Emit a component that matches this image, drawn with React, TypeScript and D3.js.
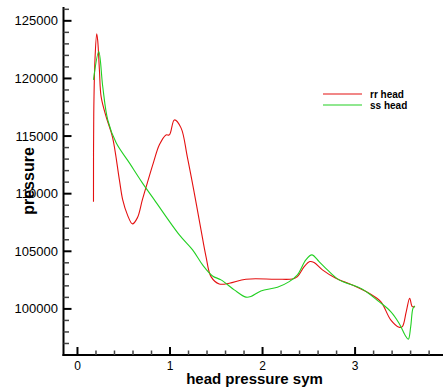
import { useEffect, useRef } from "react";
import * as d3 from "d3";

// rr head curve (head pressure sym, pressure)
const rrHeadX = [
  0.173, 0.176, 0.189, 0.208, 0.219, 0.237, 0.256, 0.31, 0.378, 0.453, 0.489,
  0.54, 0.594, 0.647, 0.701, 0.755, 0.82, 0.885, 0.957, 0.993, 1.047, 1.119,
  1.187, 1.262, 1.335, 1.389, 1.443, 1.532, 1.64, 1.82, 2.144, 2.323, 2.377,
  2.45, 2.511, 2.557, 2.647, 2.792, 2.971, 3.151, 3.277, 3.385, 3.475, 3.51,
  3.553, 3.59, 3.618, 3.647,
];
const rrHeadP = [
  109290, 116930, 121610, 123870, 123260, 120750, 118400, 116670, 114930,
  111200, 109460, 108160, 107380, 107900, 109460, 110940, 112670, 114240,
  115100, 115100, 116400, 115710, 113190, 110070, 106860, 104540, 102800,
  102170, 102230, 102580, 102580, 102600, 102800, 103670, 104110, 104020,
  103390, 102660, 102080, 101360, 100630, 99050, 98410, 98460, 99770, 100930,
  100200, 100200,
];

// ss head curve
const ssHeadX = [
  0.173, 0.23, 0.273, 0.327, 0.418, 0.561, 0.701, 0.831, 1.101, 1.244, 1.352,
  1.46, 1.551, 1.694, 1.82, 1.874, 1.982, 2.161, 2.288, 2.377, 2.468, 2.533,
  2.611, 2.701, 2.827, 3.079, 3.259, 3.385, 3.475, 3.539, 3.575, 3.601, 3.626,
  3.647,
];
const ssHeadP = [
  119880, 122330, 119300, 116410, 114410, 112670, 110940, 109460, 106420,
  105120, 103820, 102860, 102520, 101650, 101020, 101070, 101560, 101880,
  102370, 102950, 104250, 104690, 104110, 103390, 102520, 101710, 100630,
  99770, 98760, 97740, 97370, 98460, 100060, 100260,
];

const xMajorTicks = [0, 1, 2, 3];
const xMinorTicks = [0.2, 0.4, 0.6, 0.8, 1.2, 1.4, 1.6, 1.8, 2.2, 2.4, 2.6, 2.8, 3.2, 3.4, 3.6, 3.8];
const yMajorTicks = [100000, 105000, 110000, 115000, 120000, 125000];
const yMinorTicks = d3.range(97000, 126001, 1000).filter((d) => d % 5000 !== 0);

const seriesNames = ["rr head", "ss head"];
const seriesColors = ["#e41010", "#22d022"];

const WIDTH = 443;
const HEIGHT = 392;

const App = () => {
  const svgRef = useRef<SVGSVGElement>(null);

  useEffect(() => {
    const svg = d3.select(svgRef.current);
    svg.selectAll("*").remove();

    const x = d3.scaleLinear().domain([-0.151, 3.95]).range([63.5, 443]);
    const y = d3.scaleLinear().domain([96000, 126200]).range([355, 7]);
    const font = "'Liberation Sans', Arial, sans-serif";

    // curves
    const line = d3
      .line<[number, number]>()
      .x((d) => x(d[0]))
      .y((d) => y(d[1]))
      .curve(d3.curveCatmullRom.alpha(0.5));

    const series = [
      d3.zip(rrHeadX, rrHeadP) as [number, number][],
      d3.zip(ssHeadX, ssHeadP) as [number, number][],
    ];
    series.forEach((pts, i) => {
      svg
        .append("path")
        .datum(pts)
        .attr("d", line)
        .attr("fill", "none")
        .attr("stroke", seriesColors[i])
        .attr("stroke-width", 1.1);
    });

    // axes lines
    const axisColor = "#000";
    svg
      .append("line")
      .attr("x1", 63.5)
      .attr("x2", 63.5)
      .attr("y1", 7)
      .attr("y2", 356)
      .attr("stroke", axisColor)
      .attr("stroke-width", 2);
    svg
      .append("line")
      .attr("x1", 62.5)
      .attr("x2", 443)
      .attr("y1", 355)
      .attr("y2", 355)
      .attr("stroke", axisColor)
      .attr("stroke-width", 2);

    // y ticks
    svg
      .selectAll(".ymajor")
      .data(yMajorTicks)
      .enter()
      .append("line")
      .attr("x1", 63.5)
      .attr("x2", 71.5)
      .attr("y1", (d) => y(d))
      .attr("y2", (d) => y(d))
      .attr("stroke", axisColor)
      .attr("stroke-width", 2);
    svg
      .selectAll(".yminor")
      .data(yMinorTicks)
      .enter()
      .append("line")
      .attr("x1", 63.5)
      .attr("x2", 69)
      .attr("y1", (d) => y(d))
      .attr("y2", (d) => y(d))
      .attr("stroke", "#444")
      .attr("stroke-width", 1.5);
    svg
      .selectAll(".ylabel")
      .data(yMajorTicks)
      .enter()
      .append("text")
      .attr("x", 58)
      .attr("y", (d) => y(d) + 4.5)
      .attr("text-anchor", "end")
      .attr("font-family", font)
      .attr("font-size", "13px")
      .attr("fill", "#000")
      .text((d) => d);

    // x ticks
    svg
      .selectAll(".xmajor")
      .data(xMajorTicks)
      .enter()
      .append("line")
      .attr("x1", (d) => x(d))
      .attr("x2", (d) => x(d))
      .attr("y1", 355)
      .attr("y2", 347)
      .attr("stroke", axisColor)
      .attr("stroke-width", 2);
    svg
      .selectAll(".xminor")
      .data(xMinorTicks)
      .enter()
      .append("line")
      .attr("x1", (d) => x(d))
      .attr("x2", (d) => x(d))
      .attr("y1", 355)
      .attr("y2", 350.5)
      .attr("stroke", "#444")
      .attr("stroke-width", 1.5);
    svg
      .selectAll(".xlabel")
      .data(xMajorTicks)
      .enter()
      .append("text")
      .attr("x", (d) => x(d))
      .attr("y", 369.5)
      .attr("text-anchor", "middle")
      .attr("font-family", font)
      .attr("font-size", "12px")
      .attr("fill", "#000")
      .text((d) => d);

    // axis titles
    svg
      .append("text")
      .attr("x", 254.5)
      .attr("y", 384)
      .attr("text-anchor", "middle")
      .attr("font-family", font)
      .attr("font-size", "15px")
      .attr("font-weight", "bold")
      .text("head pressure sym");
    svg
      .append("text")
      .attr("transform", "translate(34,181) rotate(-90)")
      .attr("text-anchor", "middle")
      .attr("font-family", font)
      .attr("font-size", "16px")
      .attr("font-weight", "bold")
      .text("pressure");

    // legend
    seriesNames.forEach((name, i) => {
      const ly = 94 + i * 11;
      svg
        .append("line")
        .attr("x1", 323)
        .attr("x2", 362)
        .attr("y1", ly)
        .attr("y2", ly)
        .attr("stroke", seriesColors[i])
        .attr("stroke-width", 1.1);
      svg
        .append("text")
        .attr("x", 370)
        .attr("y", ly + 3.5)
        .attr("font-family", font)
        .attr("font-size", "10px")
        .attr("font-weight", "bold")
        .text(name);
    });
  }, []);

  return (
    <svg
      ref={svgRef}
      width={WIDTH}
      height={HEIGHT}
      style={{ position: "absolute", left: 0, top: 0, background: "#fff" }}
    ></svg>
  );
};

export default App;
